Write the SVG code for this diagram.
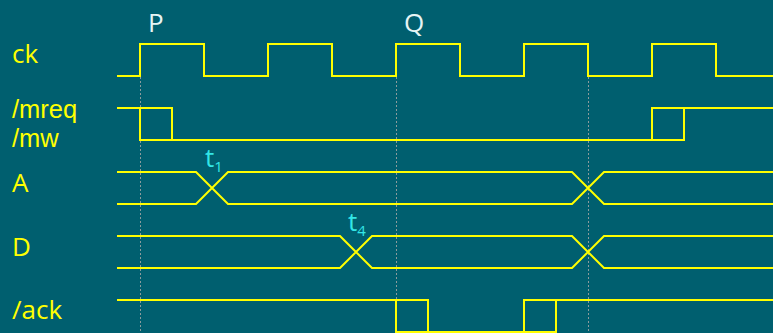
<svg xmlns="http://www.w3.org/2000/svg" width="773" height="333" viewBox="0 0 773 333">
<style>
.sig{fill:none;stroke:#ffff00;stroke-width:2;stroke-linejoin:miter}
.guide{fill:none;stroke:#8c9c9c;stroke-width:1;stroke-dasharray:2 2}
.lbl{font-family:"Open Sans","Noto Sans",sans-serif;font-size:26px;fill:#ffff00}
.sm{font-family:"Liberation Sans",Arial,sans-serif;font-size:25.5px}
.pt{font-family:"Open Sans","Noto Sans",sans-serif;font-size:26px;fill:#e6f4f4}
.tm{font-family:"Open Sans","Noto Sans",sans-serif;font-size:26px;fill:#33e6e6}
.sub{font-size:15px}
</style>
<rect width="773" height="333" fill="#005f6f"/>
<g id="guides">
<line class="guide" x1="140.5" y1="77" x2="140.5" y2="333"/>
<line class="guide" x1="396.5" y1="77" x2="396.5" y2="333"/>
<line class="guide" x1="588.5" y1="77" x2="588.5" y2="333"/>
</g>
<g id="labels">
<text class="lbl" x="12" y="63">ck</text>
<text class="lbl sm" x="12" y="118">/mreq</text>
<text class="lbl sm" x="12" y="147">/mw</text>
<text class="lbl" x="12" y="192">A</text>
<text class="lbl" x="12" y="256">D</text>
<text class="lbl" x="12" y="319">/ack</text>
<text class="pt" x="148" y="32">P</text>
<text class="pt" x="404" y="32">Q</text>
</g>
<g id="connectors">
<path id="ck" class="sig" d="M117,76 H140 V44 H204 V76 H268 V44 H332 V76 H396 V44 H460 V76 H524 V44 H588 V76 H652 V44 H716 V76 H773"/>
<path id="mreq" class="sig" d="M117,108 H140 V140 H652 V108 H773"/>
<path id="mw" class="sig" d="M117,108 H172 V140 H684 V108 H773"/>
<path id="A" class="sig" d="M117,172 H196 L228,204 H572 L604,172 H773 M117,204 H196 L228,172 H572 L604,204 H773"/>
<path id="D" class="sig" d="M117,236 H340 L372,268 H572 L604,236 H773 M117,268 H340 L372,236 H572 L604,268 H773"/>
<path id="ack1" class="sig" d="M117,300 H396 V332 H524 V300 H773"/>
<path id="ack2" class="sig" d="M117,300 H428 V332 H556 V300 H773"/>
</g>
<g id="t1"><text class="tm" x="205" y="167">t<tspan class="sub" dy="5">1</tspan></text></g>
<g id="t4"><text class="tm" x="348" y="231">t<tspan class="sub" dy="5">4</tspan></text></g>
</svg>
